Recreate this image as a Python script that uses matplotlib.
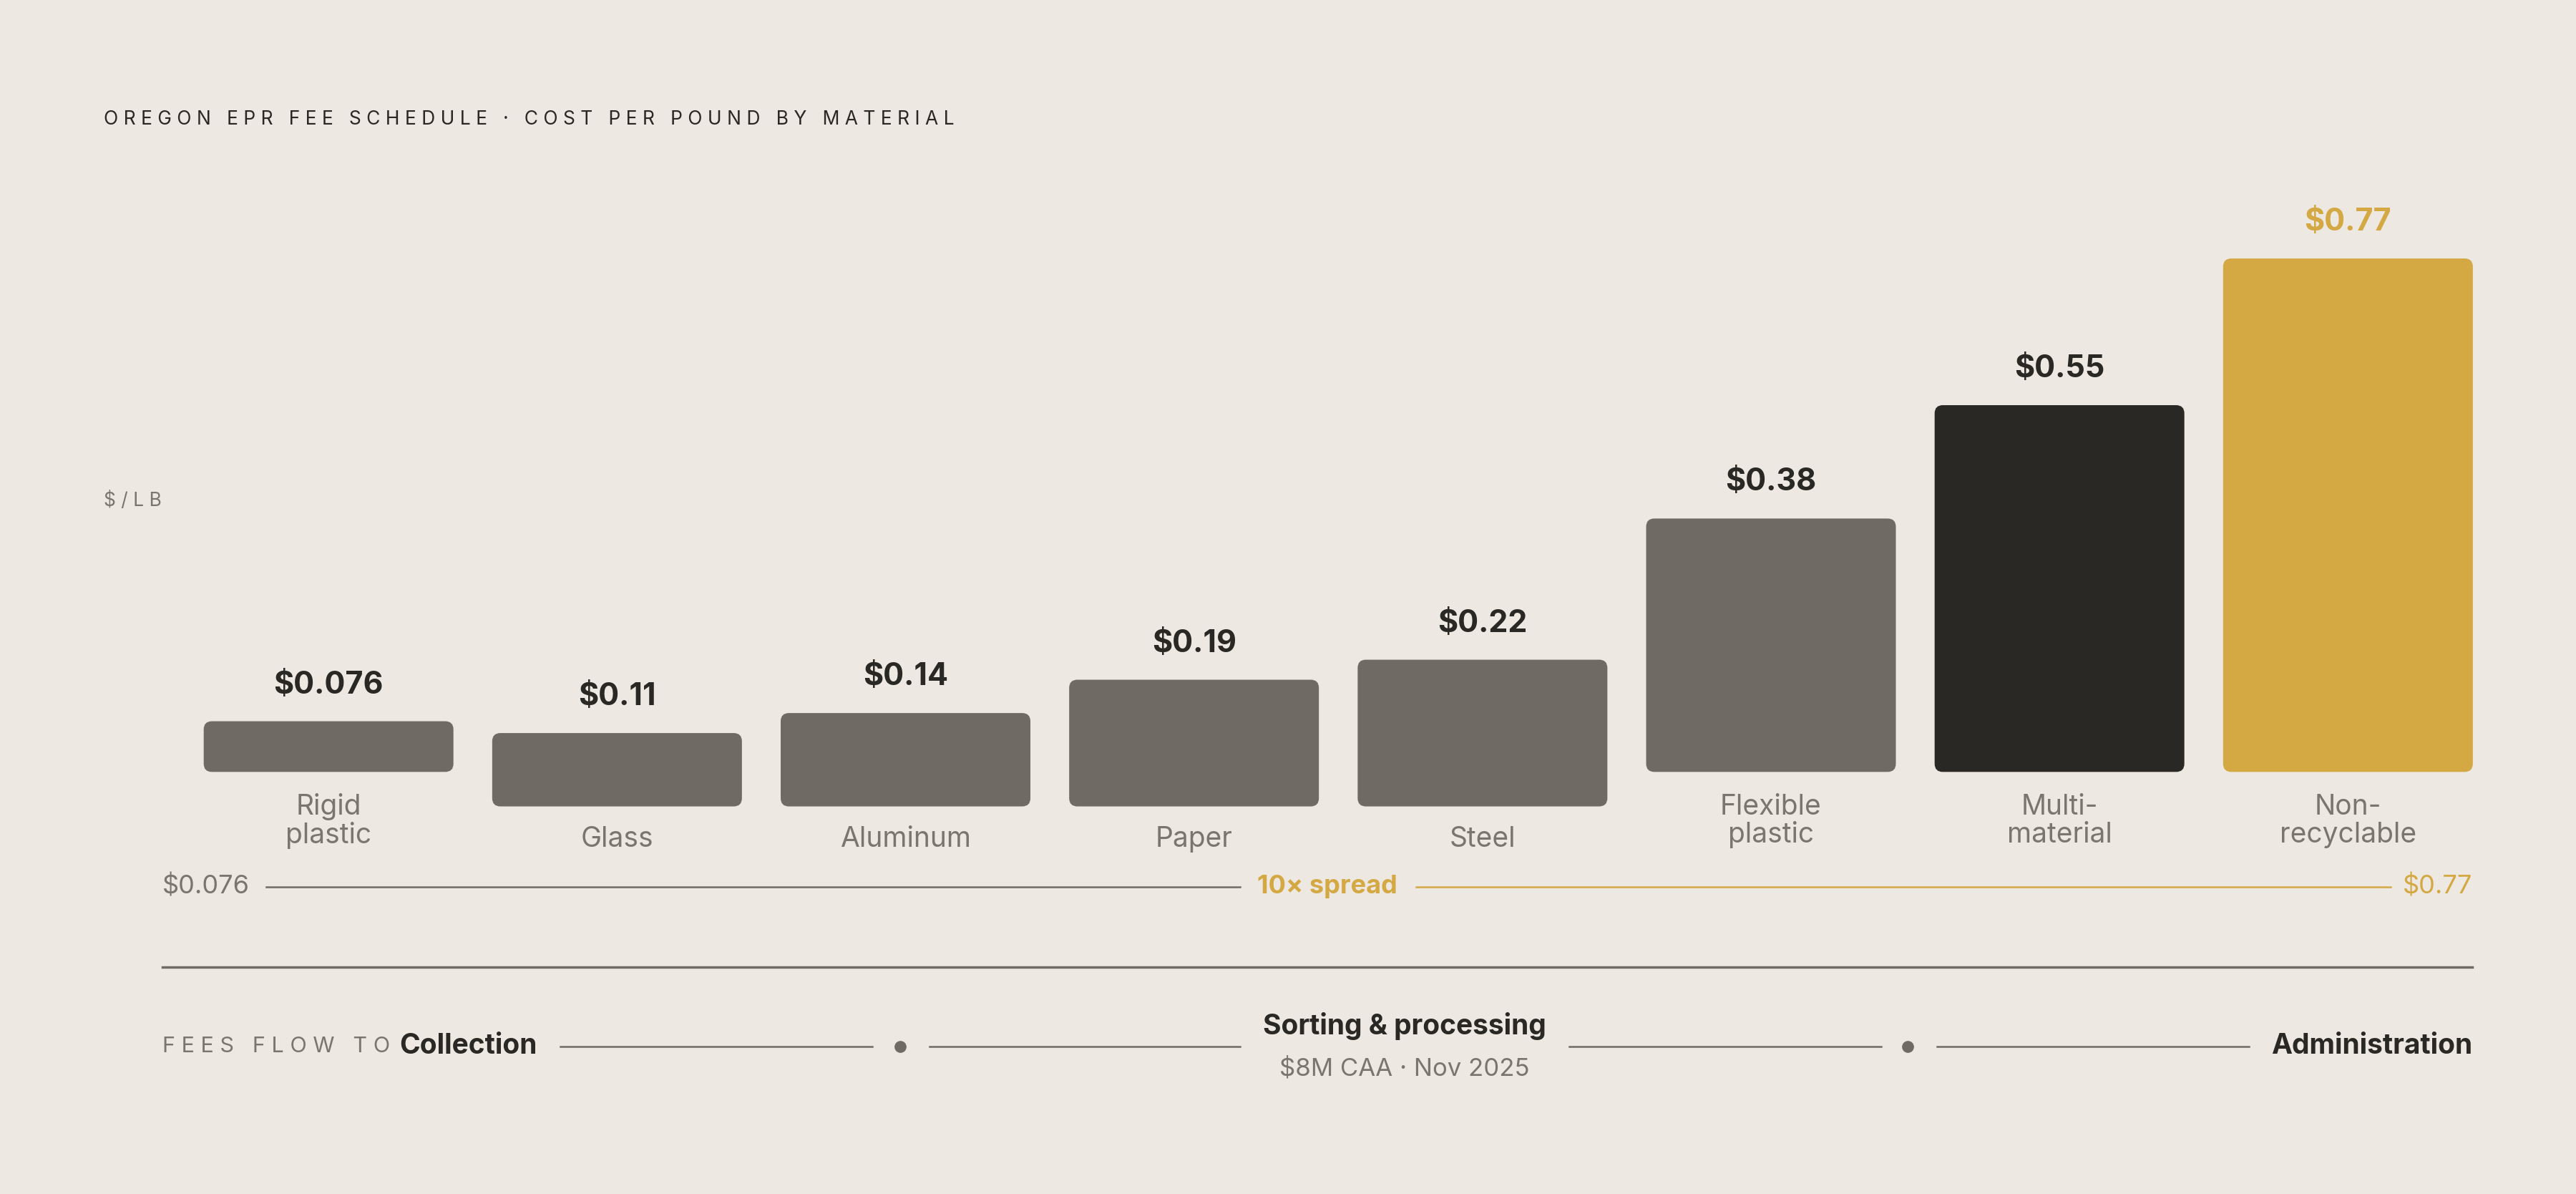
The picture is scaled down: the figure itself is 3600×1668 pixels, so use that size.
import matplotlib
matplotlib.use("Agg")
import matplotlib.pyplot as plt
from matplotlib.patches import FancyBboxPatch, Circle

categories = ["Rigid\nplastic", "Glass", "Aluminum", "Paper", "Steel", "Flexible\nplastic", "Multi-\nmaterial", "Non-\nrecyclable"]
values = [0.076, 0.11, 0.14, 0.19, 0.22, 0.38, 0.55, 0.77]
value_labels = ["$0.076", "$0.11", "$0.14", "$0.19", "$0.22", "$0.38", "$0.55", "$0.77"]
colors = ["#6f6b64"] * 6 + ["#2a2824", "#d4a843"]

BG = "#ede8e1"; GRAY = "#6f6b64"; DARK = "#2a2824"; GOLD = "#d4a843"; MUTED = "#7a766f"
plt.rcParams['font.family'] = ['Inter', 'DejaVu Sans']

fig = plt.figure(figsize=(36, 16.68), dpi=100, facecolor=BG)
ax = fig.add_axes([0, 0, 1, 1]); ax.set_facecolor(BG)
ax.set_xlim(0, 1568); ax.set_ylim(727, 0); ax.axis("off")

ax.text(63, 73, "O R E G O N   E P R   F E E   S C H E D U L E   ·   C O S T   P E R   P O U N D   B Y   M A T E R I A L",
        fontsize=19, color=DARK, va="center", ha="left")
ax.text(63, 305, "$ / L B", fontsize=19, color=MUTED, va="center")

scale = 406.0
x0, step, w = 200, 175.6, 152
for i, (c, v, lab, col) in enumerate(zip(categories, values, value_labels, colors)):
    xc = x0 + i * step
    two = "\n" in c
    bottom = 470 if two else 491
    h = v * scale
    ax.add_patch(FancyBboxPatch((xc - w/2, bottom - h), w, h,
                 boxstyle="round,pad=0,rounding_size=5", fc=col, ec="none"))
    ax.text(xc, bottom - h - 22, lab, ha="center", va="center", fontsize=31,
            fontweight="bold", color=GOLD if i == 7 else DARK)
    ax.text(xc, 500 if two else 511, c, ha="center", va="center", fontsize=28,
            color=MUTED, linespacing=1.05)

# spread line
ax.text(99, 540, value_labels[0], ha="left", va="center", fontsize=26, color=MUTED)
ax.plot([162, 755], [540, 540], color=GRAY, lw=1.8)
ax.text(808, 540, "10× spread", ha="center", va="center", fontsize=26, color=GOLD, fontweight="bold")
ax.plot([862, 1455], [540, 540], color=GOLD, lw=1.8)
ax.text(1505, 540, value_labels[-1], ha="right", va="center", fontsize=26, color=GOLD)

ax.plot([99, 1505], [589, 589], color=GRAY, lw=2.5)

# fees flow
y = 637
ax.text(99, y, "F E E S   F L O W   T O", ha="left", va="center", fontsize=22, color=MUTED)
ax.text(243, y, "Collection", ha="left", va="center", fontsize=28, fontweight="bold", color=DARK)
for a, b in [(341, 531), (566, 755), (955, 1145), (1179, 1369)]:
    ax.plot([a, b], [y, y], color=GRAY, lw=1.8)
for cx in (548, 1161):
    ax.plot(cx, y, "o", color=GRAY, ms=11)
ax.text(855, 625, "Sorting & processing", ha="center", va="center", fontsize=28, fontweight="bold", color=DARK)
ax.text(855, 651, "$8M CAA · Nov 2025", ha="center", va="center", fontsize=25, color=MUTED)
ax.text(1505, y, "Administration", ha="right", va="center", fontsize=28, fontweight="bold", color=DARK)

fig.savefig("out.png", dpi=100, facecolor=BG)
